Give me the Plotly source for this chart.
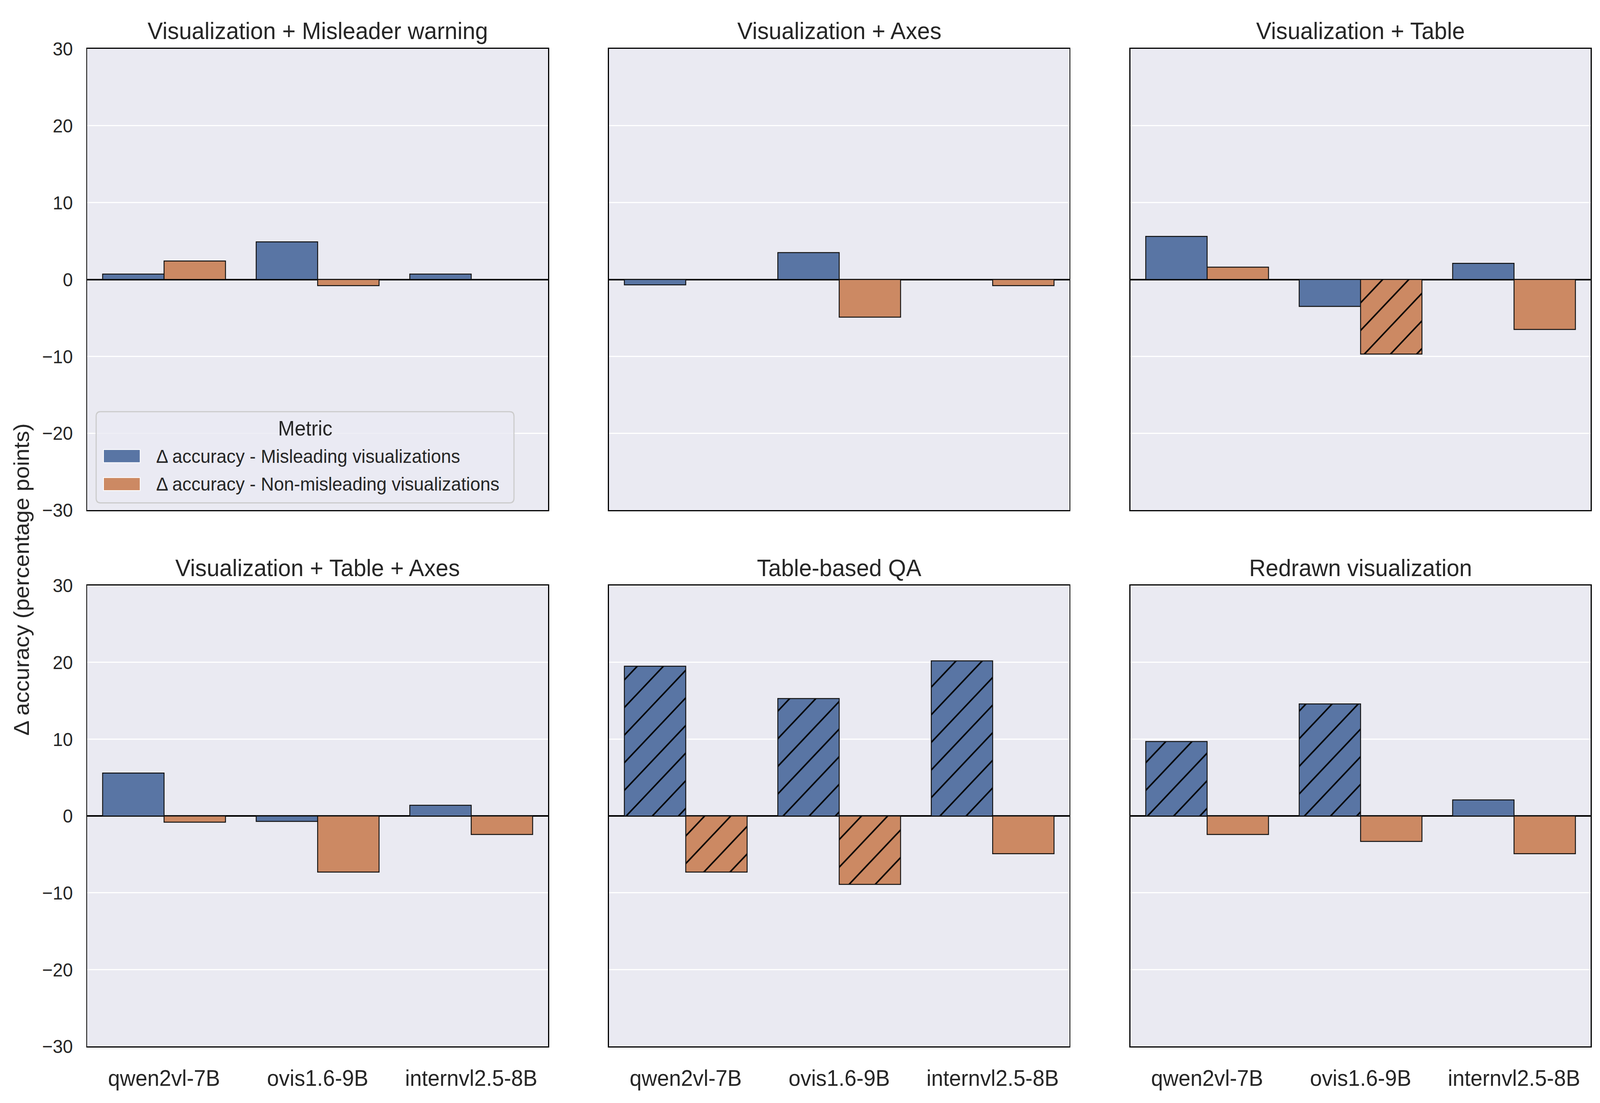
import plotly.graph_objects as go

W, H = 4327, 2824

models = ["qwen2vl-7B", "ovis1.6-9B", "internvl2.5-8B"]
panel_titles = [
    "Visualization + Misleader warning",
    "Visualization + Axes",
    "Visualization + Table",
    "Visualization + Table + Axes",
    "Table-based QA",
    "Redrawn visualization",
]
series_names = [
    "Δ accuracy - Misleading visualizations",
    "Δ accuracy - Non-misleading visualizations",
]
misleading_vals = [
    [0.7, 4.9, 0.7],
    [-0.7, 3.5, 0.0],
    [5.6, -3.5, 2.1],
    [5.6, -0.7, 1.4],
    [19.5, 15.3, 20.2],
    [9.7, 14.6, 2.1],
]
nonmisleading_vals = [
    [2.4, -0.8, 0.0],
    [0.0, -4.9, -0.8],
    [1.6, -9.7, -6.5],
    [-0.8, -7.3, -2.4],
    [-7.3, -8.9, -4.9],
    [-2.4, -3.3, -4.9],
]
misleading_signif = [
    [False, False, False],
    [False, False, False],
    [False, False, False],
    [False, False, False],
    [True, True, True],
    [True, True, False],
]
nonmisleading_signif = [
    [False, False, False],
    [False, False, False],
    [False, True, False],
    [False, False, False],
    [True, True, False],
    [False, False, False],
]
y_ticks = [-30, -20, -10, 0, 10, 20, 30]

BLUE = "#5975A4"
ORANGE = "#CC8963"
TXT = "#262626"
FONT = "Liberation Sans, Arial, sans-serif"

def px_x(p):
    return p / W

def px_y(p):
    return 1 - p / H

x_domains = [[px_x(236), px_x(1482)], [px_x(1647), px_x(2892)], [px_x(3057), px_x(4302)]]
y_domains = [[px_y(1304), px_y(100)], [px_y(2704), px_y(1501)]]

fig = go.Figure()
layout = dict(
    width=W, height=H,
    margin=dict(l=0, r=0, t=0, b=0),
    plot_bgcolor="#EAEAF2", paper_bgcolor="white",
    barmode="group", bargap=0.2, bargroupgap=0.0,
    showlegend=False,
    font=dict(family=FONT, color=TXT),
)
annotations = []
shapes = []

for i in range(6):
    row, col = divmod(i, 3)
    n = "" if i == 0 else str(i + 1)
    xa, ya = "x" + n, "y" + n
    for vals, sig, color, name in [
        (misleading_vals[i], misleading_signif[i], BLUE, series_names[0]),
        (nonmisleading_vals[i], nonmisleading_signif[i], ORANGE, series_names[1]),
    ]:
        fig.add_trace(go.Bar(
            x=models, y=vals, name=name, xaxis=xa, yaxis=ya,
            marker=dict(
                color=color,
                line=dict(color="#111111", width=2.5),
                pattern=dict(
                    shape=["/" if s else "" for s in sig],
                    fgcolor="black", fgopacity=1, size=50, solidity=0.08,
                    fillmode="overlay",
                ),
            ),
            showlegend=False,
        ))
    layout["xaxis" + n] = dict(
        domain=x_domains[col], anchor=ya, type="category",
        categoryorder="array", categoryarray=models, range=[-0.5, 2.5],
        showline=True, mirror=True, linecolor="black", linewidth=3,
        showgrid=False, ticks="", showticklabels=(row == 1),
        tickfont=dict(size=58, color=TXT, family=FONT), ticklabelstandoff=28,
        zeroline=False,
    )
    layout["yaxis" + n] = dict(
        domain=y_domains[row], anchor=xa, range=[-30, 30],
        tickvals=y_ticks, showticklabels=(col == 0),
        showline=True, mirror=True, linecolor="black", linewidth=3,
        showgrid=True, gridcolor="white", gridwidth=3,
        zeroline=True, zerolinecolor="black", zerolinewidth=3.5,
        ticks="", tickfont=dict(size=49, color=TXT, family=FONT), ticklabelstandoff=26,
    )
    annotations.append(dict(
        text=panel_titles[i], xref="paper", yref="paper",
        x=sum(x_domains[col]) / 2, y=y_domains[row][1] + 47 / H,
        xanchor="center", yanchor="middle", showarrow=False,
        font=dict(size=62, color=TXT, family=FONT),
    ))

# y-axis label
annotations.append(dict(
    text="Δ accuracy (percentage points)", xref="paper", yref="paper",
    x=px_x(58), y=px_y(1485), textangle=-90, xanchor="center", yanchor="middle",
    showarrow=False, font=dict(size=58, color=TXT, family=FONT),
))

# legend (drawn in panel 1)
lx0, lx1, ly0, ly1 = 260, 1390, 1047, 1285
r = 12
def rounded_path(x0, y0, x1, y1, r):
    X = lambda p: px_x(p)
    Y = lambda p: px_y(p)
    return (f"M {X(x0+r)},{Y(y0)} L {X(x1-r)},{Y(y0)} Q {X(x1)},{Y(y0)} {X(x1)},{Y(y0+r)} "
            f"L {X(x1)},{Y(y1-r)} Q {X(x1)},{Y(y1)} {X(x1-r)},{Y(y1)} "
            f"L {X(x0+r)},{Y(y1)} Q {X(x0)},{Y(y1)} {X(x0)},{Y(y1-r)} "
            f"L {X(x0)},{Y(y0+r)} Q {X(x0)},{Y(y0)} {X(x0+r)},{Y(y0)} Z")
shapes.append(dict(type="path", xref="paper", yref="paper",
                   path=rounded_path(lx0, ly0, lx1, ly1, r),
                   fillcolor="rgba(234,234,242,0.8)", line=dict(color="#CCCCCC", width=3)))
annotations.append(dict(
    text="Metric", xref="paper", yref="paper", x=px_x((lx0 + lx1) / 2), y=px_y(1090),
    xanchor="center", yanchor="middle", showarrow=False,
    font=dict(size=54, color=TXT, family=FONT),
))
for k, (color, yc) in enumerate([(BLUE, 1163), (ORANGE, 1236)]):
    shapes.append(dict(type="rect", xref="paper", yref="paper",
                       x0=px_x(280), x1=px_x(379), y0=px_y(yc - 17), y1=px_y(yc + 17),
                       fillcolor=color, line=dict(color="white", width=2)))
    annotations.append(dict(
        text=series_names[k], xref="paper", yref="paper", x=px_x(420), y=px_y(yc),
        xanchor="left", yanchor="middle", showarrow=False,
        font=dict(size=49, color=TXT, family=FONT),
    ))

layout["annotations"] = annotations
layout["shapes"] = shapes
fig.update_layout(**layout)

fit_js = """
(function(){
  var gd = document.getElementById('{plot_id}');
  var de = document.documentElement, b = document.body;
  de.style.margin = '0'; de.style.padding = '0'; de.style.overflow = 'hidden';
  b.style.margin = '0'; b.style.padding = '0'; b.style.overflow = 'hidden';
  var wrap = gd.parentElement;
  wrap.style.width = '100vw'; wrap.style.height = '100vh'; wrap.style.overflow = 'hidden';
  function fit(){
    var sx = window.innerWidth / %d, sy = window.innerHeight / %d;
    gd.style.transformOrigin = '0 0';
    gd.style.transform = 'scale(' + sx + ',' + sy + ')';
  }
  fit();
  window.addEventListener('resize', fit);
})();
""" % (W, H)

fig.write_html("out.html", post_script=fit_js, config={"displayModeBar": False})
